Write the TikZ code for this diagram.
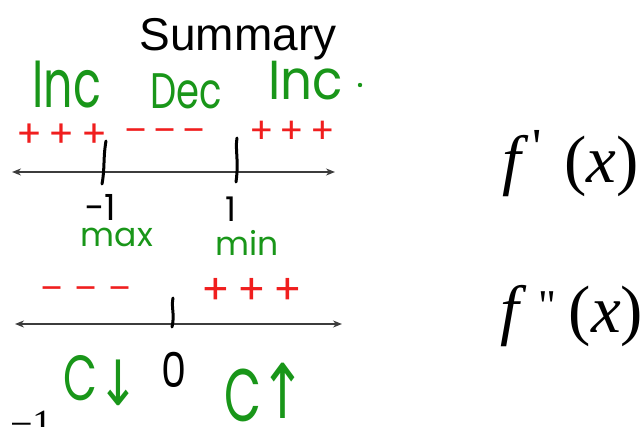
\documentclass[tikz,border=0pt]{standalone}
\usepackage{fontspec}
\setmainfont{Liberation Serif}
\newfontfamily\handfont{Poppins}
\newfontfamily\titlefont{Liberation Sans}
\newfontfamily\arrowfont{DejaVu Sans}
\newfontfamily\timesfont{Liberation Serif}
\usetikzlibrary{arrows.meta}
\definecolor{mkgreen}{RGB}{25,150,25}
\definecolor{mkred}{RGB}{240,30,30}
\definecolor{axisgray}{RGB}{60,60,60}
\tikzset{
  hand/.style={inner sep=0pt, anchor=base},
  greenhand/.style={hand, text=mkgreen},
  redhand/.style={hand, text=mkred},
  blackhand/.style={hand, text=black},
  numline/.style={draw=axisgray, line width=1.8pt,
    {Stealth[length=9pt,width=7pt]}-{Stealth[length=9pt,width=7pt]}},
  tickmark/.style={draw=black, line width=3pt, line cap=round},
  typed/.style={inner sep=0pt, anchor=base west, text=black}
}
\newcommand{\hf}[1]{\handfont\fontsize{#1}{#1}\selectfont}
\newcommand{\af}[1]{\arrowfont\fontsize{#1}{#1}\selectfont}
\newcommand{\tf}[1]{\timesfont\fontsize{#1}{#1}\selectfont}
\begin{document}
\begin{tikzpicture}[x=1pt,y=-1pt]
\useasboundingbox (0,0) rectangle (644,427);
\clip (0,0) rectangle (644,427);

% title
\node[inner sep=0pt, anchor=base] (title) at (238,51)
  {\titlefont\fontsize{46}{46}\selectfont Summary};

% first derivative line
\coordinate (l1a) at (12,172);
\coordinate (l1b) at (335,172);
\draw[numline] (l1a) -- (l1b);
\draw[tickmark] (106,141) .. controls (103,158) and (105,168) .. (102,184);
\draw[tickmark] (237,138) .. controls (235,150) and (239,160) .. (236,182);

% labels above first line
\node[greenhand, yscale=1.45] (inc1) at (67,108) {\hf{46}Inc};
\node[greenhand, yscale=1.35] (dec) at (186,109) {\hf{37}Dec};
\node[greenhand, yscale=1.1] (inc2) at (306,100) {\hf{50}Inc};
\fill[mkgreen] (360,85) circle (2.2pt);

\node[redhand] (pp1) at (62,148) {\hf{38}+\,+\,+};
\node[redhand] (mm1) at (165,143) {\hf{34}–\,–\,–};
\node[redhand] (pp2) at (292,144) {\hf{36}+\,+\,+};

% below first line
\node[blackhand] (m1) at (100,221) {\hf{36}−1};
\node[blackhand] (p1) at (231,222) {\hf{34}1};
\node[greenhand] (max) at (117,247) {\hf{33}max};
\node[greenhand] (min) at (247,255) {\hf{33}min};

% second derivative line
\coordinate (l2a) at (15,324);
\coordinate (l2b) at (342,324);
\draw[numline] (l2a) -- (l2b);
\draw[tickmark] (173,298) .. controls (171,308) and (175,314) .. (172,327);

\node[redhand] (mm2) at (86,300) {\hf{34}–\,\,–\,\,–};
\node[redhand] (pp3) at (252,304) {\hf{42}+\,+\,+};

% concavity
\node[greenhand, yscale=1.45] (c1) at (80,400) {\hf{44}C};
\node[greenhand, yscale=1.25] (dn) at (118,405) {\af{50}↓};
\node[blackhand, yscale=1.2] (zero) at (174,387) {\hf{40}0};
\node[greenhand, yscale=1.55] (c2) at (243,421) {\hf{48}C};
\node[greenhand, yscale=1.35] (up) at (283,418) {\af{56}↑};

% typed labels
\node[typed] (fp) at (502,183)
  {\tf{67}\itshape f\hspace{12pt}\raisebox{18pt}{\upshape\tf{52}\textquotesingle}\hspace{22pt}\upshape(\itshape x\upshape)};
\node[typed] (fpp) at (500,332)
  {\tf{67}\itshape f\hspace{20pt}\raisebox{12pt}{\upshape\tf{44}\textquotedbl}\hspace{12pt}\upshape(\itshape x\upshape)};
\node[typed] (neg) at (10,437) {\tf{40}−1};
\end{tikzpicture}
\end{document}
